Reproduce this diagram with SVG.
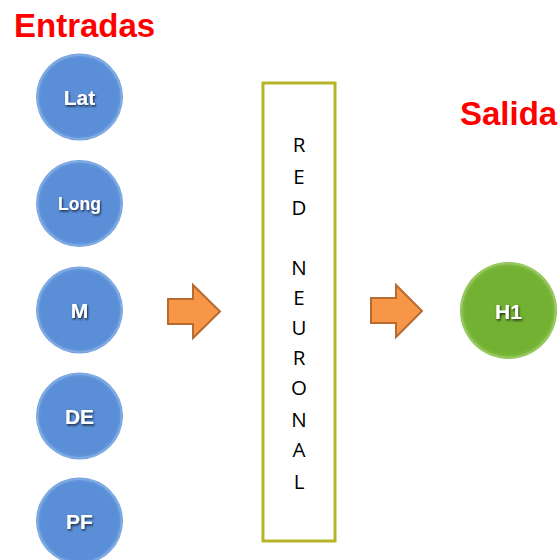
<svg xmlns="http://www.w3.org/2000/svg" width="560" height="560" viewBox="0 0 560 560">
<style>
.title{font-family:"Liberation Sans",Arial,sans-serif;font-weight:bold;font-size:33px;fill:#ff0000}
.lbl{font-family:"Liberation Sans",Arial,sans-serif;font-weight:bold;font-size:21px;fill:#ffffff;text-anchor:middle;filter:url(#ts)}
.letter{font-family:"Open Sans","DejaVu Sans",sans-serif;font-size:20.5px;fill:#000000;text-anchor:middle}
.blue{fill:url(#gb)}
.green{fill:url(#gg)}
.rim{fill:none;stroke:#ffffff;stroke-opacity:0.18;stroke-width:2}
.arrow{fill:#f79646;stroke:#b66b30;stroke-width:2;stroke-linejoin:miter}
</style>
<defs>
<radialGradient id="gb" cx="0.5" cy="0.5" r="0.5">
<stop offset="0.88" stop-color="#5a8fd8"/>
<stop offset="1" stop-color="#6a9cde"/>
</radialGradient>
<radialGradient id="gg" cx="0.5" cy="0.5" r="0.5">
<stop offset="0.88" stop-color="#73b133"/>
<stop offset="1" stop-color="#86c046"/>
</radialGradient>
<filter id="ts" x="-20%" y="-20%" width="140%" height="140%">
<feDropShadow dx="1" dy="1.5" stdDeviation="0.8" flood-color="#000000" flood-opacity="0.75"/>
</filter>
</defs>
<text class="title" x="14" y="37">Entradas</text>
<text class="title" x="460" y="125">Salida</text>
<g id="node-lat">
<circle class="blue" cx="79.5" cy="97" r="43.5"/>
<circle class="rim" cx="79.5" cy="97" r="42"/>
<text class="lbl" x="79.5" y="105">Lat</text>
</g>
<g id="node-long">
<circle class="blue" cx="79.5" cy="203.5" r="43.5"/>
<circle class="rim" cx="79.5" cy="203.5" r="42"/>
<text class="lbl" x="79.5" y="210" style="font-size:17.5px">Long</text>
</g>
<g id="node-m">
<circle class="blue" cx="79.5" cy="310" r="43.5"/>
<circle class="rim" cx="79.5" cy="310" r="42"/>
<text class="lbl" x="79.5" y="318">M</text>
</g>
<g id="node-de">
<circle class="blue" cx="79.5" cy="416" r="43.5"/>
<circle class="rim" cx="79.5" cy="416" r="42"/>
<text class="lbl" x="79.5" y="424">DE</text>
</g>
<g id="node-pf">
<circle class="blue" cx="79.5" cy="521" r="43.5"/>
<circle class="rim" cx="79.5" cy="521" r="42"/>
<text class="lbl" x="79.5" y="529">PF</text>
</g>
<g id="node-red">
<rect x="263" y="83" width="72" height="458" fill="#ffffff" stroke="#b8b428" stroke-width="3"/>
<text class="letter" x="299" y="152">R</text>
<text class="letter" x="299" y="184">E</text>
<text class="letter" x="299" y="215">D</text>
<text class="letter" x="299" y="275">N</text>
<text class="letter" x="299" y="305">E</text>
<text class="letter" x="299" y="335">U</text>
<text class="letter" x="299" y="365">R</text>
<text class="letter" x="299" y="395">O</text>
<text class="letter" x="299" y="427">N</text>
<text class="letter" x="299" y="457">A</text>
<text class="letter" x="299" y="489">L</text>
</g>
<g id="node-h1">
<circle class="green" cx="508.5" cy="310.5" r="48.5"/>
<circle class="rim" cx="508.5" cy="310.5" r="47"/>
<text class="lbl" x="508.5" y="318.5">H1</text>
</g>
<g id="connectors">
<path class="arrow" d="M168,299 H193 V285 L220,311.5 L193,338 V324 H168 Z"/>
<path class="arrow" d="M371,298 H396 V285 L422,311 L396,337 V323 H371 Z"/>
</g>
</svg>
